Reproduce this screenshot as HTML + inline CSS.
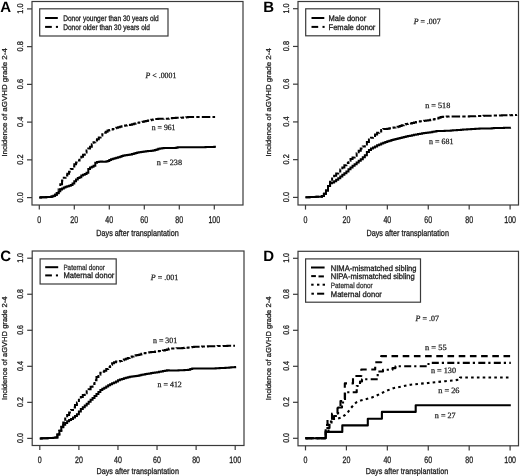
<!DOCTYPE html>
<html><head><meta charset="utf-8"><style>
html,body{margin:0;padding:0;background:#fff;width:520px;height:476px;overflow:hidden}
svg{display:block;will-change:transform;text-rendering:geometricPrecision}

</style></head><body>
<svg width="520" height="476" viewBox="0 0 520 476">
<rect width="520" height="476" fill="#fff"/>
<rect x="32.0" y="1.5" width="211.0" height="203.5" fill="none" stroke="#3a3a3a" stroke-width="1.2"/>
<line x1="27.0" y1="197.6" x2="32.0" y2="197.6" stroke="#3a3a3a" stroke-width="1.2" />
<text transform="translate(22.5,197.29999999999998) rotate(-90)" font-size="8.3" font-family='"Liberation Sans", sans-serif' font-weight="normal" font-style="normal" text-anchor="middle" fill="#1e1e1e" textLength="10.2" lengthAdjust="spacingAndGlyphs"  stroke="#1e1e1e" stroke-width="0.3">0.0</text>
<line x1="27.0" y1="159.85999999999999" x2="32.0" y2="159.85999999999999" stroke="#3a3a3a" stroke-width="1.2" />
<text transform="translate(22.5,159.55999999999997) rotate(-90)" font-size="8.3" font-family='"Liberation Sans", sans-serif' font-weight="normal" font-style="normal" text-anchor="middle" fill="#1e1e1e" textLength="10.2" lengthAdjust="spacingAndGlyphs"  stroke="#1e1e1e" stroke-width="0.3">0.2</text>
<line x1="27.0" y1="122.11999999999999" x2="32.0" y2="122.11999999999999" stroke="#3a3a3a" stroke-width="1.2" />
<text transform="translate(22.5,121.82) rotate(-90)" font-size="8.3" font-family='"Liberation Sans", sans-serif' font-weight="normal" font-style="normal" text-anchor="middle" fill="#1e1e1e" textLength="10.2" lengthAdjust="spacingAndGlyphs"  stroke="#1e1e1e" stroke-width="0.3">0.4</text>
<line x1="27.0" y1="84.37999999999998" x2="32.0" y2="84.37999999999998" stroke="#3a3a3a" stroke-width="1.2" />
<text transform="translate(22.5,84.07999999999998) rotate(-90)" font-size="8.3" font-family='"Liberation Sans", sans-serif' font-weight="normal" font-style="normal" text-anchor="middle" fill="#1e1e1e" textLength="10.2" lengthAdjust="spacingAndGlyphs"  stroke="#1e1e1e" stroke-width="0.3">0.6</text>
<line x1="27.0" y1="46.639999999999986" x2="32.0" y2="46.639999999999986" stroke="#3a3a3a" stroke-width="1.2" />
<text transform="translate(22.5,46.33999999999999) rotate(-90)" font-size="8.3" font-family='"Liberation Sans", sans-serif' font-weight="normal" font-style="normal" text-anchor="middle" fill="#1e1e1e" textLength="10.2" lengthAdjust="spacingAndGlyphs"  stroke="#1e1e1e" stroke-width="0.3">0.8</text>
<line x1="27.0" y1="8.900000000000006" x2="32.0" y2="8.900000000000006" stroke="#3a3a3a" stroke-width="1.2" />
<text transform="translate(22.5,8.600000000000005) rotate(-90)" font-size="8.3" font-family='"Liberation Sans", sans-serif' font-weight="normal" font-style="normal" text-anchor="middle" fill="#1e1e1e" textLength="10.2" lengthAdjust="spacingAndGlyphs"  stroke="#1e1e1e" stroke-width="0.3">1.0</text>
<line x1="39.3" y1="205.0" x2="39.3" y2="209.6" stroke="#3a3a3a" stroke-width="1.2" />
<text transform="translate(39.3,222.9) scale(0.72,1)" font-size="9.8" font-family='"Liberation Sans", sans-serif' font-weight="normal" font-style="normal" text-anchor="middle" fill="#1e1e1e"  stroke="#1e1e1e" stroke-width="0.3">0</text>
<line x1="74.3" y1="205.0" x2="74.3" y2="209.6" stroke="#3a3a3a" stroke-width="1.2" />
<text transform="translate(74.3,222.9) scale(0.72,1)" font-size="9.8" font-family='"Liberation Sans", sans-serif' font-weight="normal" font-style="normal" text-anchor="middle" fill="#1e1e1e"  stroke="#1e1e1e" stroke-width="0.3">20</text>
<line x1="109.3" y1="205.0" x2="109.3" y2="209.6" stroke="#3a3a3a" stroke-width="1.2" />
<text transform="translate(109.3,222.9) scale(0.72,1)" font-size="9.8" font-family='"Liberation Sans", sans-serif' font-weight="normal" font-style="normal" text-anchor="middle" fill="#1e1e1e"  stroke="#1e1e1e" stroke-width="0.3">40</text>
<line x1="144.3" y1="205.0" x2="144.3" y2="209.6" stroke="#3a3a3a" stroke-width="1.2" />
<text transform="translate(144.3,222.9) scale(0.72,1)" font-size="9.8" font-family='"Liberation Sans", sans-serif' font-weight="normal" font-style="normal" text-anchor="middle" fill="#1e1e1e"  stroke="#1e1e1e" stroke-width="0.3">60</text>
<line x1="179.3" y1="205.0" x2="179.3" y2="209.6" stroke="#3a3a3a" stroke-width="1.2" />
<text transform="translate(179.3,222.9) scale(0.72,1)" font-size="9.8" font-family='"Liberation Sans", sans-serif' font-weight="normal" font-style="normal" text-anchor="middle" fill="#1e1e1e"  stroke="#1e1e1e" stroke-width="0.3">80</text>
<line x1="214.3" y1="205.0" x2="214.3" y2="209.6" stroke="#3a3a3a" stroke-width="1.2" />
<text transform="translate(214.3,222.9) scale(0.72,1)" font-size="9.8" font-family='"Liberation Sans", sans-serif' font-weight="normal" font-style="normal" text-anchor="middle" fill="#1e1e1e"  stroke="#1e1e1e" stroke-width="0.3">100</text>
<text transform="translate(137.5,235.6)" font-size="8.8" font-family='"Liberation Sans", sans-serif' font-weight="normal" font-style="normal" text-anchor="middle" fill="#1e1e1e" textLength="82.4" lengthAdjust="spacingAndGlyphs"  stroke="#1e1e1e" stroke-width="0.3">Days after transplantation</text>
<text transform="translate(7.0,102.4) scale(0.91,1) rotate(-90)" font-size="7.9" font-family='"Liberation Sans", sans-serif' font-weight="normal" font-style="normal" text-anchor="middle" fill="#1e1e1e" textLength="108.4" lengthAdjust="spacingAndGlyphs"  stroke="#1e1e1e" stroke-width="0.3">Incidence of aGVHD grade 2-4</text>
<text transform="translate(0.3,11.6)" font-size="15" font-family='"Liberation Sans", sans-serif' font-weight="bold" font-style="normal" text-anchor="start" fill="#000" >A</text>
<rect x="298.0" y="1.5" width="220.5" height="203.5" fill="none" stroke="#3a3a3a" stroke-width="1.2"/>
<line x1="293.0" y1="197.4" x2="298.0" y2="197.4" stroke="#3a3a3a" stroke-width="1.2" />
<text transform="translate(288.5,197.1) rotate(-90)" font-size="8.3" font-family='"Liberation Sans", sans-serif' font-weight="normal" font-style="normal" text-anchor="middle" fill="#1e1e1e" textLength="10.2" lengthAdjust="spacingAndGlyphs"  stroke="#1e1e1e" stroke-width="0.3">0.0</text>
<line x1="293.0" y1="159.66" x2="298.0" y2="159.66" stroke="#3a3a3a" stroke-width="1.2" />
<text transform="translate(288.5,159.35999999999999) rotate(-90)" font-size="8.3" font-family='"Liberation Sans", sans-serif' font-weight="normal" font-style="normal" text-anchor="middle" fill="#1e1e1e" textLength="10.2" lengthAdjust="spacingAndGlyphs"  stroke="#1e1e1e" stroke-width="0.3">0.2</text>
<line x1="293.0" y1="121.92" x2="298.0" y2="121.92" stroke="#3a3a3a" stroke-width="1.2" />
<text transform="translate(288.5,121.62) rotate(-90)" font-size="8.3" font-family='"Liberation Sans", sans-serif' font-weight="normal" font-style="normal" text-anchor="middle" fill="#1e1e1e" textLength="10.2" lengthAdjust="spacingAndGlyphs"  stroke="#1e1e1e" stroke-width="0.3">0.4</text>
<line x1="293.0" y1="84.17999999999999" x2="298.0" y2="84.17999999999999" stroke="#3a3a3a" stroke-width="1.2" />
<text transform="translate(288.5,83.88) rotate(-90)" font-size="8.3" font-family='"Liberation Sans", sans-serif' font-weight="normal" font-style="normal" text-anchor="middle" fill="#1e1e1e" textLength="10.2" lengthAdjust="spacingAndGlyphs"  stroke="#1e1e1e" stroke-width="0.3">0.6</text>
<line x1="293.0" y1="46.44" x2="298.0" y2="46.44" stroke="#3a3a3a" stroke-width="1.2" />
<text transform="translate(288.5,46.14) rotate(-90)" font-size="8.3" font-family='"Liberation Sans", sans-serif' font-weight="normal" font-style="normal" text-anchor="middle" fill="#1e1e1e" textLength="10.2" lengthAdjust="spacingAndGlyphs"  stroke="#1e1e1e" stroke-width="0.3">0.8</text>
<line x1="293.0" y1="8.700000000000017" x2="298.0" y2="8.700000000000017" stroke="#3a3a3a" stroke-width="1.2" />
<text transform="translate(288.5,8.400000000000016) rotate(-90)" font-size="8.3" font-family='"Liberation Sans", sans-serif' font-weight="normal" font-style="normal" text-anchor="middle" fill="#1e1e1e" textLength="10.2" lengthAdjust="spacingAndGlyphs"  stroke="#1e1e1e" stroke-width="0.3">1.0</text>
<line x1="305.5" y1="205.0" x2="305.5" y2="209.6" stroke="#3a3a3a" stroke-width="1.2" />
<text transform="translate(305.5,222.9) scale(0.72,1)" font-size="9.8" font-family='"Liberation Sans", sans-serif' font-weight="normal" font-style="normal" text-anchor="middle" fill="#1e1e1e"  stroke="#1e1e1e" stroke-width="0.3">0</text>
<line x1="346.42" y1="205.0" x2="346.42" y2="209.6" stroke="#3a3a3a" stroke-width="1.2" />
<text transform="translate(346.42,222.9) scale(0.72,1)" font-size="9.8" font-family='"Liberation Sans", sans-serif' font-weight="normal" font-style="normal" text-anchor="middle" fill="#1e1e1e"  stroke="#1e1e1e" stroke-width="0.3">20</text>
<line x1="387.34" y1="205.0" x2="387.34" y2="209.6" stroke="#3a3a3a" stroke-width="1.2" />
<text transform="translate(387.34,222.9) scale(0.72,1)" font-size="9.8" font-family='"Liberation Sans", sans-serif' font-weight="normal" font-style="normal" text-anchor="middle" fill="#1e1e1e"  stroke="#1e1e1e" stroke-width="0.3">40</text>
<line x1="428.26" y1="205.0" x2="428.26" y2="209.6" stroke="#3a3a3a" stroke-width="1.2" />
<text transform="translate(428.26,222.9) scale(0.72,1)" font-size="9.8" font-family='"Liberation Sans", sans-serif' font-weight="normal" font-style="normal" text-anchor="middle" fill="#1e1e1e"  stroke="#1e1e1e" stroke-width="0.3">60</text>
<line x1="469.17999999999995" y1="205.0" x2="469.17999999999995" y2="209.6" stroke="#3a3a3a" stroke-width="1.2" />
<text transform="translate(469.17999999999995,222.9) scale(0.72,1)" font-size="9.8" font-family='"Liberation Sans", sans-serif' font-weight="normal" font-style="normal" text-anchor="middle" fill="#1e1e1e"  stroke="#1e1e1e" stroke-width="0.3">80</text>
<line x1="510.1" y1="205.0" x2="510.1" y2="209.6" stroke="#3a3a3a" stroke-width="1.2" />
<text transform="translate(510.1,222.9) scale(0.72,1)" font-size="9.8" font-family='"Liberation Sans", sans-serif' font-weight="normal" font-style="normal" text-anchor="middle" fill="#1e1e1e"  stroke="#1e1e1e" stroke-width="0.3">100</text>
<text transform="translate(407.7,235.6)" font-size="8.8" font-family='"Liberation Sans", sans-serif' font-weight="normal" font-style="normal" text-anchor="middle" fill="#1e1e1e" textLength="82.4" lengthAdjust="spacingAndGlyphs"  stroke="#1e1e1e" stroke-width="0.3">Days after transplantation</text>
<text transform="translate(270.6,102.4) scale(0.91,1) rotate(-90)" font-size="7.9" font-family='"Liberation Sans", sans-serif' font-weight="normal" font-style="normal" text-anchor="middle" fill="#1e1e1e" textLength="108.4" lengthAdjust="spacingAndGlyphs"  stroke="#1e1e1e" stroke-width="0.3">Incidence of aGVHD grade 2-4</text>
<text transform="translate(263.2,11.6)" font-size="15" font-family='"Liberation Sans", sans-serif' font-weight="bold" font-style="normal" text-anchor="start" fill="#000" >B</text>
<rect x="32.2" y="251.0" width="211.8" height="194.5" fill="none" stroke="#3a3a3a" stroke-width="1.2"/>
<line x1="27.200000000000003" y1="438.4" x2="32.2" y2="438.4" stroke="#3a3a3a" stroke-width="1.2" />
<text transform="translate(22.700000000000003,438.09999999999997) scale(1.0471204188481675,1) rotate(-90)" font-size="7.926500000000001" font-family='"Liberation Sans", sans-serif' font-weight="normal" font-style="normal" text-anchor="middle" fill="#1e1e1e" textLength="9.741" lengthAdjust="spacingAndGlyphs"  stroke="#1e1e1e" stroke-width="0.3">0.0</text>
<line x1="27.200000000000003" y1="402.35999999999996" x2="32.2" y2="402.35999999999996" stroke="#3a3a3a" stroke-width="1.2" />
<text transform="translate(22.700000000000003,402.05999999999995) scale(1.0471204188481675,1) rotate(-90)" font-size="7.926500000000001" font-family='"Liberation Sans", sans-serif' font-weight="normal" font-style="normal" text-anchor="middle" fill="#1e1e1e" textLength="9.741" lengthAdjust="spacingAndGlyphs"  stroke="#1e1e1e" stroke-width="0.3">0.2</text>
<line x1="27.200000000000003" y1="366.32" x2="32.2" y2="366.32" stroke="#3a3a3a" stroke-width="1.2" />
<text transform="translate(22.700000000000003,366.02) scale(1.0471204188481675,1) rotate(-90)" font-size="7.926500000000001" font-family='"Liberation Sans", sans-serif' font-weight="normal" font-style="normal" text-anchor="middle" fill="#1e1e1e" textLength="9.741" lengthAdjust="spacingAndGlyphs"  stroke="#1e1e1e" stroke-width="0.3">0.4</text>
<line x1="27.200000000000003" y1="330.28" x2="32.2" y2="330.28" stroke="#3a3a3a" stroke-width="1.2" />
<text transform="translate(22.700000000000003,329.97999999999996) scale(1.0471204188481675,1) rotate(-90)" font-size="7.926500000000001" font-family='"Liberation Sans", sans-serif' font-weight="normal" font-style="normal" text-anchor="middle" fill="#1e1e1e" textLength="9.741" lengthAdjust="spacingAndGlyphs"  stroke="#1e1e1e" stroke-width="0.3">0.6</text>
<line x1="27.200000000000003" y1="294.24" x2="32.2" y2="294.24" stroke="#3a3a3a" stroke-width="1.2" />
<text transform="translate(22.700000000000003,293.94) scale(1.0471204188481675,1) rotate(-90)" font-size="7.926500000000001" font-family='"Liberation Sans", sans-serif' font-weight="normal" font-style="normal" text-anchor="middle" fill="#1e1e1e" textLength="9.741" lengthAdjust="spacingAndGlyphs"  stroke="#1e1e1e" stroke-width="0.3">0.8</text>
<line x1="27.200000000000003" y1="258.2" x2="32.2" y2="258.2" stroke="#3a3a3a" stroke-width="1.2" />
<text transform="translate(22.700000000000003,257.9) scale(1.0471204188481675,1) rotate(-90)" font-size="7.926500000000001" font-family='"Liberation Sans", sans-serif' font-weight="normal" font-style="normal" text-anchor="middle" fill="#1e1e1e" textLength="9.741" lengthAdjust="spacingAndGlyphs"  stroke="#1e1e1e" stroke-width="0.3">1.0</text>
<line x1="39.8" y1="445.5" x2="39.8" y2="450.1" stroke="#3a3a3a" stroke-width="1.2" />
<text transform="translate(39.8,462.5945) scale(0.7539267015706806,1)" font-size="9.359" font-family='"Liberation Sans", sans-serif' font-weight="normal" font-style="normal" text-anchor="middle" fill="#1e1e1e"  stroke="#1e1e1e" stroke-width="0.3">0</text>
<line x1="78.88" y1="445.5" x2="78.88" y2="450.1" stroke="#3a3a3a" stroke-width="1.2" />
<text transform="translate(78.88,462.5945) scale(0.7539267015706806,1)" font-size="9.359" font-family='"Liberation Sans", sans-serif' font-weight="normal" font-style="normal" text-anchor="middle" fill="#1e1e1e"  stroke="#1e1e1e" stroke-width="0.3">20</text>
<line x1="117.96" y1="445.5" x2="117.96" y2="450.1" stroke="#3a3a3a" stroke-width="1.2" />
<text transform="translate(117.96,462.5945) scale(0.7539267015706806,1)" font-size="9.359" font-family='"Liberation Sans", sans-serif' font-weight="normal" font-style="normal" text-anchor="middle" fill="#1e1e1e"  stroke="#1e1e1e" stroke-width="0.3">40</text>
<line x1="157.04" y1="445.5" x2="157.04" y2="450.1" stroke="#3a3a3a" stroke-width="1.2" />
<text transform="translate(157.04,462.5945) scale(0.7539267015706806,1)" font-size="9.359" font-family='"Liberation Sans", sans-serif' font-weight="normal" font-style="normal" text-anchor="middle" fill="#1e1e1e"  stroke="#1e1e1e" stroke-width="0.3">60</text>
<line x1="196.12" y1="445.5" x2="196.12" y2="450.1" stroke="#3a3a3a" stroke-width="1.2" />
<text transform="translate(196.12,462.5945) scale(0.7539267015706806,1)" font-size="9.359" font-family='"Liberation Sans", sans-serif' font-weight="normal" font-style="normal" text-anchor="middle" fill="#1e1e1e"  stroke="#1e1e1e" stroke-width="0.3">80</text>
<line x1="235.2" y1="445.5" x2="235.2" y2="450.1" stroke="#3a3a3a" stroke-width="1.2" />
<text transform="translate(235.2,462.5945) scale(0.7539267015706806,1)" font-size="9.359" font-family='"Liberation Sans", sans-serif' font-weight="normal" font-style="normal" text-anchor="middle" fill="#1e1e1e"  stroke="#1e1e1e" stroke-width="0.3">100</text>
<text transform="translate(137.7,473.6)" font-size="8.404" font-family='"Liberation Sans", sans-serif' font-weight="normal" font-style="normal" text-anchor="middle" fill="#1e1e1e" textLength="82.4" lengthAdjust="spacingAndGlyphs"  stroke="#1e1e1e" stroke-width="0.3">Days after transplantation</text>
<text transform="translate(7.0,348.2) scale(0.9528795811518326,1) rotate(-90)" font-size="7.5445" font-family='"Liberation Sans", sans-serif' font-weight="normal" font-style="normal" text-anchor="middle" fill="#1e1e1e" textLength="103.522" lengthAdjust="spacingAndGlyphs"  stroke="#1e1e1e" stroke-width="0.3">Incidence of aGVHD grade 2-4</text>
<text transform="translate(0.3,261.4)" font-size="15" font-family='"Liberation Sans", sans-serif' font-weight="bold" font-style="normal" text-anchor="start" fill="#000" >C</text>
<rect x="298.0" y="251.3" width="220.5" height="194.5" fill="none" stroke="#3a3a3a" stroke-width="1.2"/>
<line x1="293.0" y1="438.3" x2="298.0" y2="438.3" stroke="#3a3a3a" stroke-width="1.2" />
<text transform="translate(288.5,438.0) scale(1.0471204188481675,1) rotate(-90)" font-size="7.926500000000001" font-family='"Liberation Sans", sans-serif' font-weight="normal" font-style="normal" text-anchor="middle" fill="#1e1e1e" textLength="9.741" lengthAdjust="spacingAndGlyphs"  stroke="#1e1e1e" stroke-width="0.3">0.0</text>
<line x1="293.0" y1="402.3" x2="298.0" y2="402.3" stroke="#3a3a3a" stroke-width="1.2" />
<text transform="translate(288.5,402.0) scale(1.0471204188481675,1) rotate(-90)" font-size="7.926500000000001" font-family='"Liberation Sans", sans-serif' font-weight="normal" font-style="normal" text-anchor="middle" fill="#1e1e1e" textLength="9.741" lengthAdjust="spacingAndGlyphs"  stroke="#1e1e1e" stroke-width="0.3">0.2</text>
<line x1="293.0" y1="366.3" x2="298.0" y2="366.3" stroke="#3a3a3a" stroke-width="1.2" />
<text transform="translate(288.5,366.0) scale(1.0471204188481675,1) rotate(-90)" font-size="7.926500000000001" font-family='"Liberation Sans", sans-serif' font-weight="normal" font-style="normal" text-anchor="middle" fill="#1e1e1e" textLength="9.741" lengthAdjust="spacingAndGlyphs"  stroke="#1e1e1e" stroke-width="0.3">0.4</text>
<line x1="293.0" y1="330.3" x2="298.0" y2="330.3" stroke="#3a3a3a" stroke-width="1.2" />
<text transform="translate(288.5,330.0) scale(1.0471204188481675,1) rotate(-90)" font-size="7.926500000000001" font-family='"Liberation Sans", sans-serif' font-weight="normal" font-style="normal" text-anchor="middle" fill="#1e1e1e" textLength="9.741" lengthAdjust="spacingAndGlyphs"  stroke="#1e1e1e" stroke-width="0.3">0.6</text>
<line x1="293.0" y1="294.3" x2="298.0" y2="294.3" stroke="#3a3a3a" stroke-width="1.2" />
<text transform="translate(288.5,294.0) scale(1.0471204188481675,1) rotate(-90)" font-size="7.926500000000001" font-family='"Liberation Sans", sans-serif' font-weight="normal" font-style="normal" text-anchor="middle" fill="#1e1e1e" textLength="9.741" lengthAdjust="spacingAndGlyphs"  stroke="#1e1e1e" stroke-width="0.3">0.8</text>
<line x1="293.0" y1="258.3" x2="298.0" y2="258.3" stroke="#3a3a3a" stroke-width="1.2" />
<text transform="translate(288.5,258.0) scale(1.0471204188481675,1) rotate(-90)" font-size="7.926500000000001" font-family='"Liberation Sans", sans-serif' font-weight="normal" font-style="normal" text-anchor="middle" fill="#1e1e1e" textLength="9.741" lengthAdjust="spacingAndGlyphs"  stroke="#1e1e1e" stroke-width="0.3">1.0</text>
<line x1="305.5" y1="445.8" x2="305.5" y2="450.40000000000003" stroke="#3a3a3a" stroke-width="1.2" />
<text transform="translate(305.5,462.8945) scale(0.7539267015706806,1)" font-size="9.359" font-family='"Liberation Sans", sans-serif' font-weight="normal" font-style="normal" text-anchor="middle" fill="#1e1e1e"  stroke="#1e1e1e" stroke-width="0.3">0</text>
<line x1="346.42" y1="445.8" x2="346.42" y2="450.40000000000003" stroke="#3a3a3a" stroke-width="1.2" />
<text transform="translate(346.42,462.8945) scale(0.7539267015706806,1)" font-size="9.359" font-family='"Liberation Sans", sans-serif' font-weight="normal" font-style="normal" text-anchor="middle" fill="#1e1e1e"  stroke="#1e1e1e" stroke-width="0.3">20</text>
<line x1="387.34" y1="445.8" x2="387.34" y2="450.40000000000003" stroke="#3a3a3a" stroke-width="1.2" />
<text transform="translate(387.34,462.8945) scale(0.7539267015706806,1)" font-size="9.359" font-family='"Liberation Sans", sans-serif' font-weight="normal" font-style="normal" text-anchor="middle" fill="#1e1e1e"  stroke="#1e1e1e" stroke-width="0.3">40</text>
<line x1="428.26" y1="445.8" x2="428.26" y2="450.40000000000003" stroke="#3a3a3a" stroke-width="1.2" />
<text transform="translate(428.26,462.8945) scale(0.7539267015706806,1)" font-size="9.359" font-family='"Liberation Sans", sans-serif' font-weight="normal" font-style="normal" text-anchor="middle" fill="#1e1e1e"  stroke="#1e1e1e" stroke-width="0.3">60</text>
<line x1="469.17999999999995" y1="445.8" x2="469.17999999999995" y2="450.40000000000003" stroke="#3a3a3a" stroke-width="1.2" />
<text transform="translate(469.17999999999995,462.8945) scale(0.7539267015706806,1)" font-size="9.359" font-family='"Liberation Sans", sans-serif' font-weight="normal" font-style="normal" text-anchor="middle" fill="#1e1e1e"  stroke="#1e1e1e" stroke-width="0.3">80</text>
<line x1="510.1" y1="445.8" x2="510.1" y2="450.40000000000003" stroke="#3a3a3a" stroke-width="1.2" />
<text transform="translate(510.1,462.8945) scale(0.7539267015706806,1)" font-size="9.359" font-family='"Liberation Sans", sans-serif' font-weight="normal" font-style="normal" text-anchor="middle" fill="#1e1e1e"  stroke="#1e1e1e" stroke-width="0.3">100</text>
<text transform="translate(407.0,473.90000000000003)" font-size="8.404" font-family='"Liberation Sans", sans-serif' font-weight="normal" font-style="normal" text-anchor="middle" fill="#1e1e1e" textLength="82.4" lengthAdjust="spacingAndGlyphs"  stroke="#1e1e1e" stroke-width="0.3">Days after transplantation</text>
<text transform="translate(270.6,348.4) scale(0.9528795811518326,1) rotate(-90)" font-size="7.5445" font-family='"Liberation Sans", sans-serif' font-weight="normal" font-style="normal" text-anchor="middle" fill="#1e1e1e" textLength="103.522" lengthAdjust="spacingAndGlyphs"  stroke="#1e1e1e" stroke-width="0.3">Incidence of aGVHD grade 2-4</text>
<text transform="translate(263.2,261.2)" font-size="15" font-family='"Liberation Sans", sans-serif' font-weight="bold" font-style="normal" text-anchor="start" fill="#000" >D</text>
<rect x="39.7" y="8.8" width="128.3" height="27.2" fill="none" stroke="#3a3a3a" stroke-width="1.2"/>
<line x1="45.1" y1="18.0" x2="57.8" y2="18.0" stroke="#000" stroke-width="2.0" />
<line x1="45.1" y1="26.9" x2="51.800000000000004" y2="26.9" stroke="#000" stroke-width="2.0" />
<line x1="55.9" y1="26.9" x2="58.0" y2="26.9" stroke="#000" stroke-width="2.0" />
<text transform="translate(63.2,20.8)" font-size="8.0" font-family='"Liberation Sans", sans-serif' font-weight="normal" font-style="normal" text-anchor="start" fill="#1a1a1a" textLength="95.5" lengthAdjust="spacingAndGlyphs"  stroke="#1a1a1a" stroke-width="0.3">Donor younger than 30 years old</text>
<text transform="translate(63.2,30.0)" font-size="8.0" font-family='"Liberation Sans", sans-serif' font-weight="normal" font-style="normal" text-anchor="start" fill="#1a1a1a" textLength="86.8" lengthAdjust="spacingAndGlyphs"  stroke="#1a1a1a" stroke-width="0.3">Donor older than 30 years old</text>
<rect x="305.7" y="8.8" width="73.90000000000003" height="26.999999999999996" fill="none" stroke="#3a3a3a" stroke-width="1.2"/>
<line x1="311.5" y1="18.0" x2="324.3" y2="18.0" stroke="#000" stroke-width="2.0" />
<line x1="311.5" y1="26.9" x2="318.2" y2="26.9" stroke="#000" stroke-width="2.0" />
<line x1="322.5" y1="26.9" x2="324.6" y2="26.9" stroke="#000" stroke-width="2.0" />
<text transform="translate(328.5,20.8)" font-size="8.0" font-family='"Liberation Sans", sans-serif' font-weight="normal" font-style="normal" text-anchor="start" fill="#1a1a1a" textLength="37.7" lengthAdjust="spacingAndGlyphs"  stroke="#1a1a1a" stroke-width="0.3">Male donor</text>
<text transform="translate(328.5,30.0)" font-size="8.0" font-family='"Liberation Sans", sans-serif' font-weight="normal" font-style="normal" text-anchor="start" fill="#1a1a1a" textLength="46.9" lengthAdjust="spacingAndGlyphs"  stroke="#1a1a1a" stroke-width="0.3">Female donor</text>
<rect x="40.1" y="258.9" width="76.1" height="25.100000000000023" fill="none" stroke="#3a3a3a" stroke-width="1.2"/>
<line x1="45.2" y1="267.2" x2="58.2" y2="267.2" stroke="#000" stroke-width="2.0" />
<line x1="45.2" y1="275.4" x2="51.900000000000006" y2="275.4" stroke="#000" stroke-width="2.0" />
<line x1="55.9" y1="275.4" x2="58.0" y2="275.4" stroke="#000" stroke-width="2.0" />
<text transform="translate(63.4,270.2)" font-size="7.6" font-family='"Liberation Sans", sans-serif' font-weight="normal" font-style="normal" text-anchor="start" fill="#333" textLength="41.5" lengthAdjust="spacingAndGlyphs"  stroke="#333" stroke-width="0.3">Paternal donor</text>
<text transform="translate(63.4,278.3)" font-size="8.0" font-family='"Liberation Sans", sans-serif' font-weight="normal" font-style="normal" text-anchor="start" fill="#1a1a1a" textLength="51.0" lengthAdjust="spacingAndGlyphs"  stroke="#1a1a1a" stroke-width="0.3">Maternal donor</text>
<rect x="305.6" y="258.9" width="114.89999999999998" height="43.30000000000001" fill="none" stroke="#3a3a3a" stroke-width="1.2"/>
<line x1="311.0" y1="267.5" x2="324.6" y2="267.5" stroke="#000" stroke-width="2.0" />
<line x1="311.2" y1="276.1" x2="315.9" y2="276.1" stroke="#000" stroke-width="2.0" />
<line x1="318.5" y1="276.4" x2="323.9" y2="276.4" stroke="#000" stroke-width="2.0" />
<line x1="311.2" y1="284.7" x2="313.59999999999997" y2="284.7" stroke="#000" stroke-width="2.0" />
<line x1="317.0" y1="284.7" x2="319.4" y2="284.7" stroke="#000" stroke-width="2.0" />
<line x1="322.6" y1="284.7" x2="325.0" y2="284.7" stroke="#000" stroke-width="2.0" />
<line x1="311.4" y1="293.7" x2="313.9" y2="293.7" stroke="#000" stroke-width="2.0" />
<line x1="317.1" y1="293.7" x2="324.2" y2="293.7" stroke="#000" stroke-width="2.0" />
<text transform="translate(330.8,270.8)" font-size="8.0" font-family='"Liberation Sans", sans-serif' font-weight="normal" font-style="normal" text-anchor="start" fill="#1a1a1a" textLength="85.7" lengthAdjust="spacingAndGlyphs"  stroke="#1a1a1a" stroke-width="0.3">NIMA-mismatched sibling</text>
<text transform="translate(330.8,279.3)" font-size="8.0" font-family='"Liberation Sans", sans-serif' font-weight="normal" font-style="normal" text-anchor="start" fill="#1a1a1a" textLength="84.0" lengthAdjust="spacingAndGlyphs"  stroke="#1a1a1a" stroke-width="0.3">NIPA-mismatched sibling</text>
<text transform="translate(330.8,287.7)" font-size="7.6" font-family='"Liberation Sans", sans-serif' font-weight="normal" font-style="normal" text-anchor="start" fill="#333" textLength="41.9" lengthAdjust="spacingAndGlyphs"  stroke="#333" stroke-width="0.3">Paternal donor</text>
<text transform="translate(330.8,297.0)" font-size="8.0" font-family='"Liberation Sans", sans-serif' font-weight="normal" font-style="normal" text-anchor="start" fill="#1a1a1a" textLength="51.1" lengthAdjust="spacingAndGlyphs"  stroke="#1a1a1a" stroke-width="0.3">Maternal donor</text>
<text transform="translate(145.6,77.8)" font-size="8.1" font-family='"Liberation Serif", serif' fill="#222" stroke="#222" stroke-width="0.25" textLength="30.7" lengthAdjust="spacingAndGlyphs"><tspan font-style="italic">P</tspan> &lt; .0001</text>
<text transform="translate(413.7,23.8)" font-size="8.1" font-family='"Liberation Serif", serif' fill="#222" stroke="#222" stroke-width="0.25" textLength="26.9" lengthAdjust="spacingAndGlyphs"><tspan font-style="italic">P</tspan> = .007</text>
<text transform="translate(150.8,279.7)" font-size="8.1" font-family='"Liberation Serif", serif' fill="#222" stroke="#222" stroke-width="0.25" textLength="27.4" lengthAdjust="spacingAndGlyphs"><tspan font-style="italic">P</tspan> = .001</text>
<text transform="translate(415.6,320.8)" font-size="8.1" font-family='"Liberation Serif", serif' fill="#222" stroke="#222" stroke-width="0.25" textLength="23.3" lengthAdjust="spacingAndGlyphs"><tspan font-style="italic">P</tspan> = .07</text>
<text transform="translate(151.8,129.6)" font-size="8.1" font-family='"Liberation Serif", serif' font-weight="normal" font-style="normal" text-anchor="start" fill="#222" textLength="23.7" lengthAdjust="spacingAndGlyphs" stroke="#222" stroke-width="0.25">n = 961</text>
<text transform="translate(156.8,164.8)" font-size="8.1" font-family='"Liberation Serif", serif' font-weight="normal" font-style="normal" text-anchor="start" fill="#222" textLength="25.2" lengthAdjust="spacingAndGlyphs" stroke="#222" stroke-width="0.25">n = 238</text>
<text transform="translate(425.2,107.5)" font-size="8.1" font-family='"Liberation Serif", serif' font-weight="normal" font-style="normal" text-anchor="start" fill="#222" textLength="25.1" lengthAdjust="spacingAndGlyphs" stroke="#222" stroke-width="0.25">n = 518</text>
<text transform="translate(429.0,144.1)" font-size="8.1" font-family='"Liberation Serif", serif' font-weight="normal" font-style="normal" text-anchor="start" fill="#222" textLength="24.5" lengthAdjust="spacingAndGlyphs" stroke="#222" stroke-width="0.25">n = 681</text>
<text transform="translate(153.0,342.6)" font-size="8.1" font-family='"Liberation Serif", serif' font-weight="normal" font-style="normal" text-anchor="start" fill="#222" textLength="24.2" lengthAdjust="spacingAndGlyphs" stroke="#222" stroke-width="0.25">n = 301</text>
<text transform="translate(157.6,386.7)" font-size="8.1" font-family='"Liberation Serif", serif' font-weight="normal" font-style="normal" text-anchor="start" fill="#222" textLength="24.2" lengthAdjust="spacingAndGlyphs" stroke="#222" stroke-width="0.25">n = 412</text>
<text transform="translate(425.0,350.4)" font-size="8.1" font-family='"Liberation Serif", serif' font-weight="normal" font-style="normal" text-anchor="start" fill="#222" textLength="21.6" lengthAdjust="spacingAndGlyphs" stroke="#222" stroke-width="0.25">n = 55</text>
<text transform="translate(430.9,372.8)" font-size="8.1" font-family='"Liberation Serif", serif' font-weight="normal" font-style="normal" text-anchor="start" fill="#222" textLength="25.2" lengthAdjust="spacingAndGlyphs" stroke="#222" stroke-width="0.25">n = 130</text>
<text transform="translate(438.2,392.9)" font-size="8.1" font-family='"Liberation Serif", serif' font-weight="normal" font-style="normal" text-anchor="start" fill="#222" textLength="21.3" lengthAdjust="spacingAndGlyphs" stroke="#222" stroke-width="0.25">n = 26</text>
<text transform="translate(434.8,418.2)" font-size="8.1" font-family='"Liberation Serif", serif' font-weight="normal" font-style="normal" text-anchor="start" fill="#222" textLength="20.8" lengthAdjust="spacingAndGlyphs" stroke="#222" stroke-width="0.25">n = 27</text>
<path d="M39.30,197.40 L41.05,197.40 L41.05,197.34 L42.80,197.34 L42.80,197.26 L44.55,197.26 L44.55,197.19 L46.30,197.19 L46.30,197.11 L48.05,197.11 L48.05,197.03 L49.80,197.03 L49.80,196.95 L51.55,196.95 L51.55,196.55 L53.30,196.55 L53.30,195.69 L55.05,195.69 L55.05,194.83 L56.80,194.83 L56.80,193.08 L58.55,193.08 L58.55,189.61 L60.30,189.61 L60.30,184.20 L62.05,184.20 L62.05,180.49 L63.80,180.49 L63.80,177.68 L65.55,177.68 L65.55,175.55 L67.30,175.55 L67.30,173.68 L69.05,173.68 L69.05,171.64 L70.80,171.64 L70.80,169.00 L72.55,169.00 L72.55,166.43 L74.30,166.43 L74.30,164.33 L76.05,164.33 L76.05,162.38 L77.80,162.38 L77.80,160.62 L79.55,160.62 L79.55,158.83 L81.30,158.83 L81.30,156.73 L83.05,156.73 L83.05,154.63 L84.80,154.63 L84.80,152.50 L86.55,152.50 L86.55,150.38 L88.30,150.38 L88.30,148.62 L90.05,148.62 L90.05,146.75 L91.80,146.75 L91.80,144.31 L93.55,144.31 L93.55,142.22 L95.30,142.22 L95.30,140.54 L97.05,140.54 L97.05,139.23 L98.80,139.23 L98.80,137.45 L100.55,137.45 L100.55,135.52 L102.30,135.52 L102.30,134.13 L104.05,134.13 L104.05,132.74 L105.80,132.74 L105.80,131.65 L107.55,131.65 L107.55,130.59 L109.30,130.59 L109.30,129.94 L111.05,129.94 L111.05,129.45 L112.80,129.45 L112.80,128.92 L114.55,128.92 L114.55,128.37 L116.30,128.37 L116.30,127.82 L118.05,127.82 L118.05,127.28 L119.80,127.28 L119.80,126.75 L121.55,126.75 L121.55,126.24 L123.30,126.24 L123.30,125.74 L125.05,125.74 L125.05,125.53 L126.80,125.53 L126.80,125.35 L128.55,125.35 L128.55,125.04 L130.30,125.04 L130.30,124.67 L132.05,124.67 L132.05,124.24 L133.80,124.24 L133.80,123.75 L135.55,123.75 L135.55,123.27 L137.30,123.27 L137.30,122.85 L139.05,122.85 L139.05,122.43 L140.80,122.43 L140.80,122.06 L142.55,122.06 L142.55,121.68 L144.30,121.68 L144.30,121.31 L146.05,121.31 L146.05,120.94 L147.80,120.94 L147.80,120.56 L149.55,120.56 L149.55,120.20 L151.30,120.20 L151.30,119.81 L153.05,119.81 L153.05,119.40 L154.80,119.40 L154.80,118.98 L156.55,118.98 L156.55,118.89 L158.30,118.89 L158.30,118.87 L160.05,118.87 L160.05,118.86 L161.80,118.86 L161.80,118.85 L163.55,118.85 L163.55,118.83 L165.30,118.83 L165.30,118.82 L167.05,118.82 L167.05,118.80 L168.80,118.80 L168.80,118.59 L170.55,118.59 L170.55,118.32 L172.30,118.32 L172.30,118.08 L174.05,118.08 L174.05,117.95 L175.80,117.95 L175.80,117.82 L177.55,117.82 L177.55,117.70 L179.30,117.70 L179.30,117.67 L181.05,117.67 L181.05,117.63 L182.80,117.63 L182.80,117.60 L184.55,117.60 L184.55,117.38 L186.30,117.38 L186.30,117.15 L188.05,117.15 L188.05,116.92 L189.80,116.92 L189.80,116.90 L191.55,116.90 L191.55,116.90 L193.30,116.90 L193.30,116.90 L195.05,116.90 L195.05,116.90 L196.80,116.90 L196.80,116.90 L198.55,116.90 L198.55,116.90 L200.30,116.90 L200.30,116.90 L202.05,116.90 L202.05,116.90 L203.80,116.90 L203.80,116.90 L205.55,116.90 L205.55,116.90 L207.30,116.90 L207.30,116.90 L209.05,116.90 L209.05,116.90 L210.80,116.90 L210.80,116.90 L212.55,116.90 L212.55,116.90 L214.30,116.90 L214.30,116.90 L215.10,116.90" fill="none" stroke="#000" stroke-width="2.0" stroke-linecap="butt" stroke-linejoin="miter" stroke-dasharray="8.5 2.2 3.3 2.2"/>
<path d="M39.30,197.40 L41.05,197.40 L41.05,197.34 L42.80,197.34 L42.80,197.26 L44.55,197.26 L44.55,197.19 L46.30,197.19 L46.30,197.11 L48.05,197.11 L48.05,197.03 L49.80,197.03 L49.80,196.95 L51.55,196.95 L51.55,196.55 L53.30,196.55 L53.30,195.69 L55.05,195.69 L55.05,194.83 L56.80,194.83 L56.80,193.23 L58.55,193.23 L58.55,191.33 L60.30,191.33 L60.30,189.58 L62.05,189.58 L62.05,188.42 L63.80,188.42 L63.80,187.47 L65.55,187.47 L65.55,186.87 L67.30,186.87 L67.30,186.28 L69.05,186.28 L69.05,185.69 L70.80,185.69 L70.80,184.91 L72.55,184.91 L72.55,183.54 L74.30,183.54 L74.30,181.37 L76.05,181.37 L76.05,179.38 L77.80,179.38 L77.80,177.93 L79.55,177.93 L79.55,177.28 L81.30,177.28 L81.30,175.62 L83.05,175.62 L83.05,174.85 L84.80,174.85 L84.80,174.01 L86.55,174.01 L86.55,172.78 L88.30,172.78 L88.30,168.93 L90.05,168.93 L90.05,167.45 L91.80,167.45 L91.80,166.84 L93.55,166.84 L93.55,165.78 L95.30,165.78 L95.30,162.83 L97.05,162.83 L97.05,162.12 L98.80,162.12 L98.80,161.67 L100.55,161.67 L100.55,161.53 L102.30,161.53 L102.30,161.66 L104.05,161.66 L104.05,161.78 L105.80,161.78 L105.80,161.49 L107.55,161.49 L107.55,161.03 L109.30,161.03 L109.30,160.10 L111.05,160.10 L111.05,159.23 L112.80,159.23 L112.80,158.71 L114.55,158.71 L114.55,158.18 L116.30,158.18 L116.30,157.68 L118.05,157.68 L118.05,157.23 L119.80,157.23 L119.80,156.79 L121.55,156.79 L121.55,156.11 L123.30,156.11 L123.30,155.51 L125.05,155.51 L125.05,155.27 L126.80,155.27 L126.80,155.03 L128.55,155.03 L128.55,154.79 L130.30,154.79 L130.30,154.50 L132.05,154.50 L132.05,154.03 L133.80,154.03 L133.80,153.55 L135.55,153.55 L135.55,153.08 L137.30,153.08 L137.30,152.61 L139.05,152.61 L139.05,152.34 L140.80,152.34 L140.80,152.08 L142.55,152.08 L142.55,151.81 L144.30,151.81 L144.30,151.55 L146.05,151.55 L146.05,151.32 L147.80,151.32 L147.80,151.10 L149.55,151.10 L149.55,150.88 L151.30,150.88 L151.30,150.67 L153.05,150.67 L153.05,150.45 L154.80,150.45 L154.80,149.96 L156.55,149.96 L156.55,149.39 L158.30,149.39 L158.30,148.83 L160.05,148.83 L160.05,148.40 L161.80,148.40 L161.80,148.16 L163.55,148.16 L163.55,147.92 L165.30,147.92 L165.30,147.91 L167.05,147.91 L167.05,147.93 L168.80,147.93 L168.80,147.94 L170.55,147.94 L170.55,147.96 L172.30,147.96 L172.30,147.97 L174.05,147.97 L174.05,147.99 L175.80,147.99 L175.80,147.69 L177.55,147.69 L177.55,147.20 L179.30,147.20 L179.30,147.19 L181.05,147.19 L181.05,147.19 L182.80,147.19 L182.80,147.18 L184.55,147.18 L184.55,147.18 L186.30,147.18 L186.30,147.17 L188.05,147.17 L188.05,147.17 L189.80,147.17 L189.80,147.16 L191.55,147.16 L191.55,147.16 L193.30,147.16 L193.30,147.15 L195.05,147.15 L195.05,147.15 L196.80,147.15 L196.80,147.15 L198.55,147.15 L198.55,147.14 L200.30,147.14 L200.30,147.14 L202.05,147.14 L202.05,147.13 L203.80,147.13 L203.80,147.13 L205.55,147.13 L205.55,147.12 L207.30,147.12 L207.30,147.12 L209.05,147.12 L209.05,147.11 L210.80,147.11 L210.80,147.11 L212.55,147.11 L212.55,147.10 L214.30,147.10 L214.30,146.68 L215.90,146.68" fill="none" stroke="#000" stroke-width="2.0" stroke-linecap="butt" stroke-linejoin="miter"/>
<path d="M305.50,197.20 L307.55,197.20 L307.55,197.14 L309.59,197.14 L309.59,197.06 L311.64,197.06 L311.64,196.97 L313.68,196.97 L313.68,196.89 L315.73,196.89 L315.73,196.81 L317.78,196.81 L317.78,196.72 L319.82,196.72 L319.82,196.64 L321.87,196.64 L321.87,195.95 L323.91,195.95 L323.91,193.83 L325.96,193.83 L325.96,190.42 L328.01,190.42 L328.01,185.92 L330.05,185.92 L330.05,181.87 L332.10,181.87 L332.10,178.40 L334.14,178.40 L334.14,175.67 L336.19,175.67 L336.19,173.62 L338.24,173.62 L338.24,171.58 L340.28,171.58 L340.28,169.53 L342.33,169.53 L342.33,167.49 L344.37,167.49 L344.37,165.34 L346.42,165.34 L346.42,163.05 L348.47,163.05 L348.47,160.87 L350.51,160.87 L350.51,159.11 L352.56,159.11 L352.56,157.48 L354.60,157.48 L354.60,155.85 L356.65,155.85 L356.65,153.37 L358.70,153.37 L358.70,150.74 L360.74,150.74 L360.74,148.52 L362.79,148.52 L362.79,146.43 L364.83,146.43 L364.83,144.38 L366.88,144.38 L366.88,142.08 L368.93,142.08 L368.93,139.56 L370.97,139.56 L370.97,137.76 L373.02,137.76 L373.02,136.09 L375.06,136.09 L375.06,134.45 L377.11,134.45 L377.11,132.87 L379.16,132.87 L379.16,131.51 L381.20,131.51 L381.20,130.06 L383.25,130.06 L383.25,129.10 L385.29,129.10 L385.29,129.10 L387.34,129.10 L387.34,128.84 L389.39,128.84 L389.39,128.33 L391.43,128.33 L391.43,127.85 L393.48,127.85 L393.48,127.56 L395.52,127.56 L395.52,127.26 L397.57,127.26 L397.57,126.63 L399.62,126.63 L399.62,125.94 L401.66,125.94 L401.66,125.24 L403.71,125.24 L403.71,124.54 L405.75,124.54 L405.75,124.09 L407.80,124.09 L407.80,123.77 L409.85,123.77 L409.85,123.44 L411.89,123.44 L411.89,122.94 L413.94,122.94 L413.94,122.41 L415.98,122.41 L415.98,121.89 L418.03,121.89 L418.03,121.62 L420.08,121.62 L420.08,121.34 L422.12,121.34 L422.12,121.07 L424.17,121.07 L424.17,120.77 L426.21,120.77 L426.21,120.47 L428.26,120.47 L428.26,120.17 L430.31,120.17 L430.31,119.81 L432.35,119.81 L432.35,119.38 L434.40,119.38 L434.40,118.95 L436.44,118.95 L436.44,118.39 L438.49,118.39 L438.49,117.76 L440.54,117.76 L440.54,116.96 L442.58,116.96 L442.58,116.74 L444.63,116.74 L444.63,116.66 L446.67,116.66 L446.67,116.58 L448.72,116.58 L448.72,116.50 L450.77,116.50 L450.77,116.50 L452.81,116.50 L452.81,116.50 L454.86,116.50 L454.86,116.50 L456.90,116.50 L456.90,116.50 L458.95,116.50 L458.95,116.50 L461.00,116.50 L461.00,116.50 L463.04,116.50 L463.04,116.50 L465.09,116.50 L465.09,116.50 L467.13,116.50 L467.13,116.43 L469.18,116.43 L469.18,116.36 L471.23,116.36 L471.23,116.28 L473.27,116.28 L473.27,116.21 L475.32,116.21 L475.32,116.13 L477.36,116.13 L477.36,116.06 L479.41,116.06 L479.41,115.99 L481.46,115.99 L481.46,115.92 L483.50,115.92 L483.50,115.85 L485.55,115.85 L485.55,115.79 L487.59,115.79 L487.59,115.72 L489.64,115.72 L489.64,115.65 L491.69,115.65 L491.69,115.59 L493.73,115.59 L493.73,115.54 L495.78,115.54 L495.78,115.50 L497.82,115.50 L497.82,115.45 L499.87,115.45 L499.87,115.40 L501.92,115.40 L501.92,115.36 L503.96,115.36 L503.96,115.31 L506.01,115.31 L506.01,115.26 L508.05,115.26 L508.05,115.22 L510.10,115.22 L510.10,115.17 L512.15,115.17 L512.15,115.12 L514.19,115.12 L514.19,115.08 L516.24,115.08 L516.24,115.03 L516.90,115.03" fill="none" stroke="#000" stroke-width="2.0" stroke-linecap="butt" stroke-linejoin="miter" stroke-dasharray="8.5 2.2 3.3 2.2"/>
<path d="M305.50,197.20 L307.55,197.20 L307.55,197.14 L309.59,197.14 L309.59,197.06 L311.64,197.06 L311.64,196.97 L313.68,196.97 L313.68,196.89 L315.73,196.89 L315.73,196.81 L317.78,196.81 L317.78,196.72 L319.82,196.72 L319.82,196.64 L321.87,196.64 L321.87,195.95 L323.91,195.95 L323.91,193.83 L325.96,193.83 L325.96,190.42 L328.01,190.42 L328.01,185.92 L330.05,185.92 L330.05,183.23 L332.10,183.23 L332.10,182.46 L334.14,182.46 L334.14,181.20 L336.19,181.20 L336.19,179.78 L338.24,179.78 L338.24,178.23 L340.28,178.23 L340.28,176.45 L342.33,176.45 L342.33,174.72 L344.37,174.72 L344.37,173.22 L346.42,173.22 L346.42,171.39 L348.47,171.39 L348.47,169.36 L350.51,169.36 L350.51,167.61 L352.56,167.61 L352.56,165.86 L354.60,165.86 L354.60,164.17 L356.65,164.17 L356.65,162.52 L358.70,162.52 L358.70,160.83 L360.74,160.83 L360.74,159.13 L362.79,159.13 L362.79,157.23 L364.83,157.23 L364.83,155.18 L366.88,155.18 L366.88,152.01 L368.93,152.01 L368.93,150.00 L370.97,150.00 L370.97,148.57 L373.02,148.57 L373.02,147.58 L375.06,147.58 L375.06,146.50 L377.11,146.50 L377.11,145.30 L379.16,145.30 L379.16,144.39 L381.20,144.39 L381.20,143.58 L383.25,143.58 L383.25,142.79 L385.29,142.79 L385.29,142.00 L387.34,142.00 L387.34,141.30 L389.39,141.30 L389.39,140.70 L391.43,140.70 L391.43,140.11 L393.48,140.11 L393.48,139.51 L395.52,139.51 L395.52,138.91 L397.57,138.91 L397.57,138.49 L399.62,138.49 L399.62,138.11 L401.66,138.11 L401.66,137.62 L403.71,137.62 L403.71,137.01 L405.75,137.01 L405.75,136.52 L407.80,136.52 L407.80,136.09 L409.85,136.09 L409.85,135.66 L411.89,135.66 L411.89,135.24 L413.94,135.24 L413.94,134.81 L415.98,134.81 L415.98,134.38 L418.03,134.38 L418.03,133.97 L420.08,133.97 L420.08,133.67 L422.12,133.67 L422.12,133.37 L424.17,133.37 L424.17,133.07 L426.21,133.07 L426.21,132.76 L428.26,132.76 L428.26,132.46 L430.31,132.46 L430.31,132.15 L432.35,132.15 L432.35,131.81 L434.40,131.81 L434.40,131.42 L436.44,131.42 L436.44,131.09 L438.49,131.09 L438.49,131.02 L440.54,131.02 L440.54,130.96 L442.58,130.96 L442.58,130.89 L444.63,130.89 L444.63,130.83 L446.67,130.83 L446.67,130.76 L448.72,130.76 L448.72,130.69 L450.77,130.69 L450.77,130.53 L452.81,130.53 L452.81,130.37 L454.86,130.37 L454.86,130.21 L456.90,130.21 L456.90,130.05 L458.95,130.05 L458.95,129.89 L461.00,129.89 L461.00,129.73 L463.04,129.73 L463.04,129.57 L465.09,129.57 L465.09,129.41 L467.13,129.41 L467.13,129.29 L469.18,129.29 L469.18,129.17 L471.23,129.17 L471.23,129.05 L473.27,129.05 L473.27,128.93 L475.32,128.93 L475.32,128.82 L477.36,128.82 L477.36,128.70 L479.41,128.70 L479.41,128.58 L481.46,128.58 L481.46,128.46 L483.50,128.46 L483.50,128.43 L485.55,128.43 L485.55,128.48 L487.59,128.48 L487.59,128.54 L489.64,128.54 L489.64,128.60 L491.69,128.60 L491.69,128.27 L493.73,128.27 L493.73,128.08 L495.78,128.08 L495.78,128.03 L497.82,128.03 L497.82,127.99 L499.87,127.99 L499.87,127.95 L501.92,127.95 L501.92,127.90 L503.96,127.90 L503.96,127.86 L506.01,127.86 L506.01,127.82 L508.05,127.82 L508.05,127.77 L510.10,127.77 L510.10,127.73 L510.80,127.73" fill="none" stroke="#000" stroke-width="2.0" stroke-linecap="butt" stroke-linejoin="miter"/>
<path d="M39.80,438.40 L41.75,438.40 L41.75,438.34 L43.71,438.34 L43.71,438.26 L45.66,438.26 L45.66,438.18 L47.62,438.18 L47.62,438.10 L49.57,438.10 L49.57,438.03 L51.52,438.03 L51.52,437.95 L53.48,437.95 L53.48,437.87 L55.43,437.87 L55.43,437.43 L57.39,437.43 L57.39,434.60 L59.34,434.60 L59.34,430.69 L61.29,430.69 L61.29,426.78 L63.25,426.78 L63.25,422.58 L65.20,422.58 L65.20,418.43 L67.16,418.43 L67.16,415.10 L69.11,415.10 L69.11,412.40 L71.06,412.40 L71.06,409.94 L73.02,409.94 L73.02,407.50 L74.97,407.50 L74.97,405.08 L76.93,405.08 L76.93,402.51 L78.88,402.51 L78.88,399.73 L80.83,399.73 L80.83,397.05 L82.79,397.05 L82.79,395.10 L84.74,395.10 L84.74,393.14 L86.70,393.14 L86.70,391.19 L88.65,391.19 L88.65,389.24 L90.60,389.24 L90.60,386.78 L92.56,386.78 L92.56,383.96 L94.51,383.96 L94.51,380.14 L96.47,380.14 L96.47,376.98 L98.42,376.98 L98.42,374.77 L100.37,374.77 L100.37,372.81 L102.33,372.81 L102.33,371.73 L104.28,371.73 L104.28,370.75 L106.24,370.75 L106.24,369.00 L108.19,369.00 L108.19,366.96 L110.14,366.96 L110.14,364.76 L112.10,364.76 L112.10,363.19 L114.05,363.19 L114.05,362.22 L116.01,362.22 L116.01,361.60 L117.96,361.60 L117.96,361.60 L119.91,361.60 L119.91,361.07 L121.87,361.07 L121.87,360.30 L123.82,360.30 L123.82,359.53 L125.78,359.53 L125.78,358.75 L127.73,358.75 L127.73,357.98 L129.68,357.98 L129.68,357.21 L131.64,357.21 L131.64,356.43 L133.59,356.43 L133.59,355.77 L135.55,355.77 L135.55,355.37 L137.50,355.37 L137.50,354.96 L139.45,354.96 L139.45,354.41 L141.41,354.41 L141.41,353.84 L143.36,353.84 L143.36,353.34 L145.32,353.34 L145.32,352.93 L147.27,352.93 L147.27,352.52 L149.22,352.52 L149.22,352.31 L151.18,352.31 L151.18,352.11 L153.13,352.11 L153.13,351.88 L155.09,351.88 L155.09,351.59 L157.04,351.59 L157.04,351.31 L158.99,351.31 L158.99,351.10 L160.95,351.10 L160.95,350.90 L162.90,350.90 L162.90,350.55 L164.86,350.55 L164.86,350.06 L166.81,350.06 L166.81,349.53 L168.76,349.53 L168.76,348.50 L170.72,348.50 L170.72,348.45 L172.67,348.45 L172.67,348.40 L174.63,348.40 L174.63,348.36 L176.58,348.36 L176.58,348.31 L178.53,348.31 L178.53,348.26 L180.49,348.26 L180.49,348.21 L182.44,348.21 L182.44,348.05 L184.40,348.05 L184.40,347.84 L186.35,347.84 L186.35,347.63 L188.30,347.63 L188.30,347.43 L190.26,347.43 L190.26,347.22 L192.21,347.22 L192.21,347.01 L194.17,347.01 L194.17,346.87 L196.12,346.87 L196.12,346.79 L198.07,346.79 L198.07,346.72 L200.03,346.72 L200.03,346.64 L201.98,346.64 L201.98,346.57 L203.94,346.57 L203.94,346.50 L205.89,346.50 L205.89,346.42 L207.84,346.42 L207.84,346.35 L209.80,346.35 L209.80,346.28 L211.75,346.28 L211.75,346.20 L213.71,346.20 L213.71,346.16 L215.66,346.16 L215.66,346.12 L217.61,346.12 L217.61,346.08 L219.57,346.08 L219.57,346.04 L221.52,346.04 L221.52,346.00 L223.48,346.00 L223.48,345.95 L225.43,345.95 L225.43,345.91 L227.38,345.91 L227.38,345.87 L229.34,345.87 L229.34,345.83 L231.29,345.83 L231.29,345.79 L233.25,345.79 L233.25,345.75 L235.00,345.75" fill="none" stroke="#000" stroke-width="2.0" stroke-linecap="butt" stroke-linejoin="miter" stroke-dasharray="8.5 2.2 3.3 2.2"/>
<path d="M39.80,438.40 L41.75,438.40 L41.75,438.34 L43.71,438.34 L43.71,438.26 L45.66,438.26 L45.66,438.18 L47.62,438.18 L47.62,438.10 L49.57,438.10 L49.57,438.03 L51.52,438.03 L51.52,437.95 L53.48,437.95 L53.48,437.87 L55.43,437.87 L55.43,437.43 L57.39,437.43 L57.39,434.60 L59.34,434.60 L59.34,430.69 L61.29,430.69 L61.29,427.13 L63.25,427.13 L63.25,424.84 L65.20,424.84 L65.20,422.88 L67.16,422.88 L67.16,421.17 L69.11,421.17 L69.11,420.02 L71.06,420.02 L71.06,418.88 L73.02,418.88 L73.02,417.49 L74.97,417.49 L74.97,415.91 L76.93,415.91 L76.93,414.33 L78.88,414.33 L78.88,411.51 L80.83,411.51 L80.83,408.91 L82.79,408.91 L82.79,407.18 L84.74,407.18 L84.74,405.45 L86.70,405.45 L86.70,403.63 L88.65,403.63 L88.65,401.75 L90.60,401.75 L90.60,399.86 L92.56,399.86 L92.56,397.93 L94.51,397.93 L94.51,395.97 L96.47,395.97 L96.47,394.02 L98.42,394.02 L98.42,392.07 L100.37,392.07 L100.37,390.11 L102.33,390.11 L102.33,388.86 L104.28,388.86 L104.28,387.70 L106.24,387.70 L106.24,386.53 L108.19,386.53 L108.19,385.35 L110.14,385.35 L110.14,384.17 L112.10,384.17 L112.10,383.19 L114.05,383.19 L114.05,382.40 L116.01,382.40 L116.01,381.61 L117.96,381.61 L117.96,380.34 L119.91,380.34 L119.91,379.51 L121.87,379.51 L121.87,378.94 L123.82,378.94 L123.82,378.36 L125.78,378.36 L125.78,377.75 L127.73,377.75 L127.73,377.14 L129.68,377.14 L129.68,376.78 L131.64,376.78 L131.64,376.50 L133.59,376.50 L133.59,376.21 L135.55,376.21 L135.55,375.93 L137.50,375.93 L137.50,375.64 L139.45,375.64 L139.45,375.25 L141.41,375.25 L141.41,374.85 L143.36,374.85 L143.36,374.45 L145.32,374.45 L145.32,374.09 L147.27,374.09 L147.27,373.72 L149.22,373.72 L149.22,373.40 L151.18,373.40 L151.18,373.08 L153.13,373.08 L153.13,372.78 L155.09,372.78 L155.09,372.49 L157.04,372.49 L157.04,372.21 L158.99,372.21 L158.99,371.84 L160.95,371.84 L160.95,371.48 L162.90,371.48 L162.90,371.09 L164.86,371.09 L164.86,370.68 L166.81,370.68 L166.81,370.31 L168.76,370.31 L168.76,370.46 L170.72,370.46 L170.72,370.60 L172.67,370.60 L172.67,370.54 L174.63,370.54 L174.63,370.48 L176.58,370.48 L176.58,370.43 L178.53,370.43 L178.53,370.37 L180.49,370.37 L180.49,370.31 L182.44,370.31 L182.44,370.19 L184.40,370.19 L184.40,370.03 L186.35,370.03 L186.35,369.88 L188.30,369.88 L188.30,369.73 L190.26,369.73 L190.26,369.09 L192.21,369.09 L192.21,368.50 L194.17,368.50 L194.17,368.50 L196.12,368.50 L196.12,368.50 L198.07,368.50 L198.07,368.50 L200.03,368.50 L200.03,368.50 L201.98,368.50 L201.98,368.50 L203.94,368.50 L203.94,368.50 L205.89,368.50 L205.89,368.50 L207.84,368.50 L207.84,368.50 L209.80,368.50 L209.80,368.50 L211.75,368.50 L211.75,368.50 L213.71,368.50 L213.71,368.40 L215.66,368.40 L215.66,368.30 L217.61,368.30 L217.61,368.20 L219.57,368.20 L219.57,368.09 L221.52,368.09 L221.52,367.99 L223.48,367.99 L223.48,367.89 L225.43,367.89 L225.43,367.79 L227.38,367.79 L227.38,367.68 L229.34,367.68 L229.34,367.51 L231.29,367.51 L231.29,367.35 L233.25,367.35 L233.25,367.19 L235.20,367.19 L235.20,367.02 L236.10,367.02" fill="none" stroke="#000" stroke-width="2.0" stroke-linecap="butt" stroke-linejoin="miter"/>
<path d="M305.50,438.10 L325.70,438.10 L325.70,431.20 L328.50,431.20 L328.50,424.50 L331.50,424.50 L331.50,418.50 L338.00,418.50 L341.50,417.50 L345.20,414.90 L348.10,411.90 L350.60,408.50 L353.30,405.30 L356.20,402.40 L360.60,400.60 L365.70,399.20 L370.80,397.90 L375.80,396.00 L380.90,393.50 L385.90,391.00 L393.30,388.20 L402.00,386.40 L410.60,384.70 L419.30,383.80 L427.90,383.00 L436.60,382.10 L445.20,381.20 L453.90,380.40 L460.00,379.50 L460.00,377.50 L510.80,377.50" fill="none" stroke="#000" stroke-width="2.1" stroke-linecap="butt" stroke-linejoin="round" stroke-dasharray="2.6 3.2"/>
<path d="M305.50,438.10 L325.70,438.10 L325.70,428.00 L329.50,428.00 L329.50,421.50 L334.00,421.50 L334.00,416.00 L338.10,416.00 L338.10,407.50 L342.00,407.50 L342.00,402.50 L345.00,402.50 L345.00,392.30 L356.70,392.30 L356.70,386.00 L360.00,386.00 L360.00,381.50 L362.00,381.50 L362.00,379.30 L377.70,379.30 L377.70,371.50 L383.00,371.50 L383.00,369.80 L392.50,369.80 L392.50,368.10 L395.50,368.10 L395.50,366.30 L428.50,366.30 L428.50,362.90 L510.80,362.90" fill="none" stroke="#000" stroke-width="2.1" stroke-linecap="butt" stroke-linejoin="round" stroke-dasharray="7 3 2.2 3.3"/>
<path d="M305.50,438.10 L325.70,438.10 L325.70,425.00 L327.50,425.00 L327.50,419.00 L332.00,419.00 L332.00,413.50 L337.50,413.50 L337.50,407.00 L340.50,407.00 L340.50,401.00 L344.80,401.00 L344.80,383.40 L353.00,383.40 L353.00,376.00 L361.30,376.00 L361.30,369.50 L375.20,369.50 L375.20,362.30 L381.20,362.30 L381.20,356.10 L510.80,356.10" fill="none" stroke="#000" stroke-width="2.1" stroke-linecap="butt" stroke-linejoin="round" stroke-dasharray="6.6 4.6"/>
<path d="M305.50,438.30 L325.70,438.30 L325.70,431.90 L342.30,431.90 L342.30,425.40 L367.80,425.40 L367.80,418.70 L381.90,418.70 L381.90,411.90 L415.70,411.90 L415.70,405.30 L510.80,405.30" fill="none" stroke="#000" stroke-width="2.1" stroke-linecap="butt" stroke-linejoin="round"/>
</svg>
</body></html>
